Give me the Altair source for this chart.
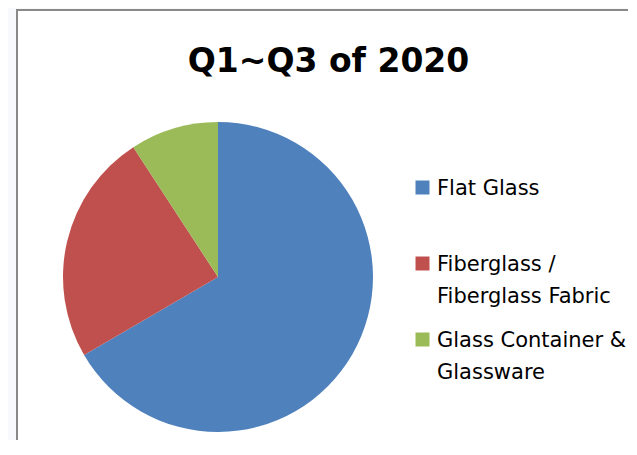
import altair as alt
import pandas as pd

# ---- data ----
categories = ["Flat Glass", "Fiberglass / Fiberglass Fabric", "Glass Container & Glassware"]
shares = [66.6, 24.2, 9.2]
legend_lines = [
    ["Flat Glass", ""],
    ["Fiberglass /", "Fiberglass Fabric"],
    ["Glass Container &", "Glassware"],
]
colors = ["#4F81BD", "#C0504D", "#9BBB59"]
title_text = "Q1~Q3 of 2020"

df = pd.DataFrame({
    "category": categories,
    "share": shares,
    "order": list(range(len(categories))),
})


def js(s):
    return "'" + s.replace("\\", "\\\\").replace("'", "\\'") + "'"


label_expr = "datum.label"
for cat, lines in reversed(list(zip(categories, legend_lines))):
    arr = "[" + ", ".join(js(l) for l in lines) + "]"
    label_expr = f"datum.label == {js(cat)} ? {arr} : ({label_expr})"

legend = alt.Legend(
    title=None,
    orient="none",
    legendX=395,
    legendY=167,
    symbolType="square",
    symbolSize=196,
    symbolStrokeWidth=0,
    symbolOpacity=1,
    labelFont="DejaVu Sans",
    labelFontSize=21,
    labelColor="#000000",
    labelBaseline="alphabetic",
    labelLimit=400,
    labelOffset=4,
    rowPadding=22,
    padding=0,
    labelExpr=label_expr,
)

chart = (
    alt.Chart(df)
    .mark_arc(outerRadius=155)
    .encode(
        theta=alt.Theta("share:Q", stack=True),
        color=alt.Color(
            "category:N",
            sort=categories,
            scale=alt.Scale(domain=categories, range=colors),
            legend=legend,
        ),
        order=alt.Order("order:Q", sort="ascending"),
        x=alt.value(201),
        y=alt.value(267),
    )
    .properties(
        width=623,
        height=442,
        autosize=alt.AutoSizeParams(type="none"),
        padding={"left": 9, "top": 2, "right": -12, "bottom": -12},
        background="#f7f9fc",
        title=alt.TitleParams(
            text=title_text,
            font="DejaVu Sans",
            fontSize=33,
            fontWeight="bold",
            color="#000000",
            anchor="middle",
            frame="group",
            baseline="alphabetic",
            offset=-95,
        ),
    )
    .configure(style={"guide-label": {"lineHeight": 31.5, "dy": 7.5}})
    .configure_view(fill="white", stroke="#898989", strokeWidth=2)
)

chart.save("out.html", embed_options={"renderer": "svg", "actions": False})
